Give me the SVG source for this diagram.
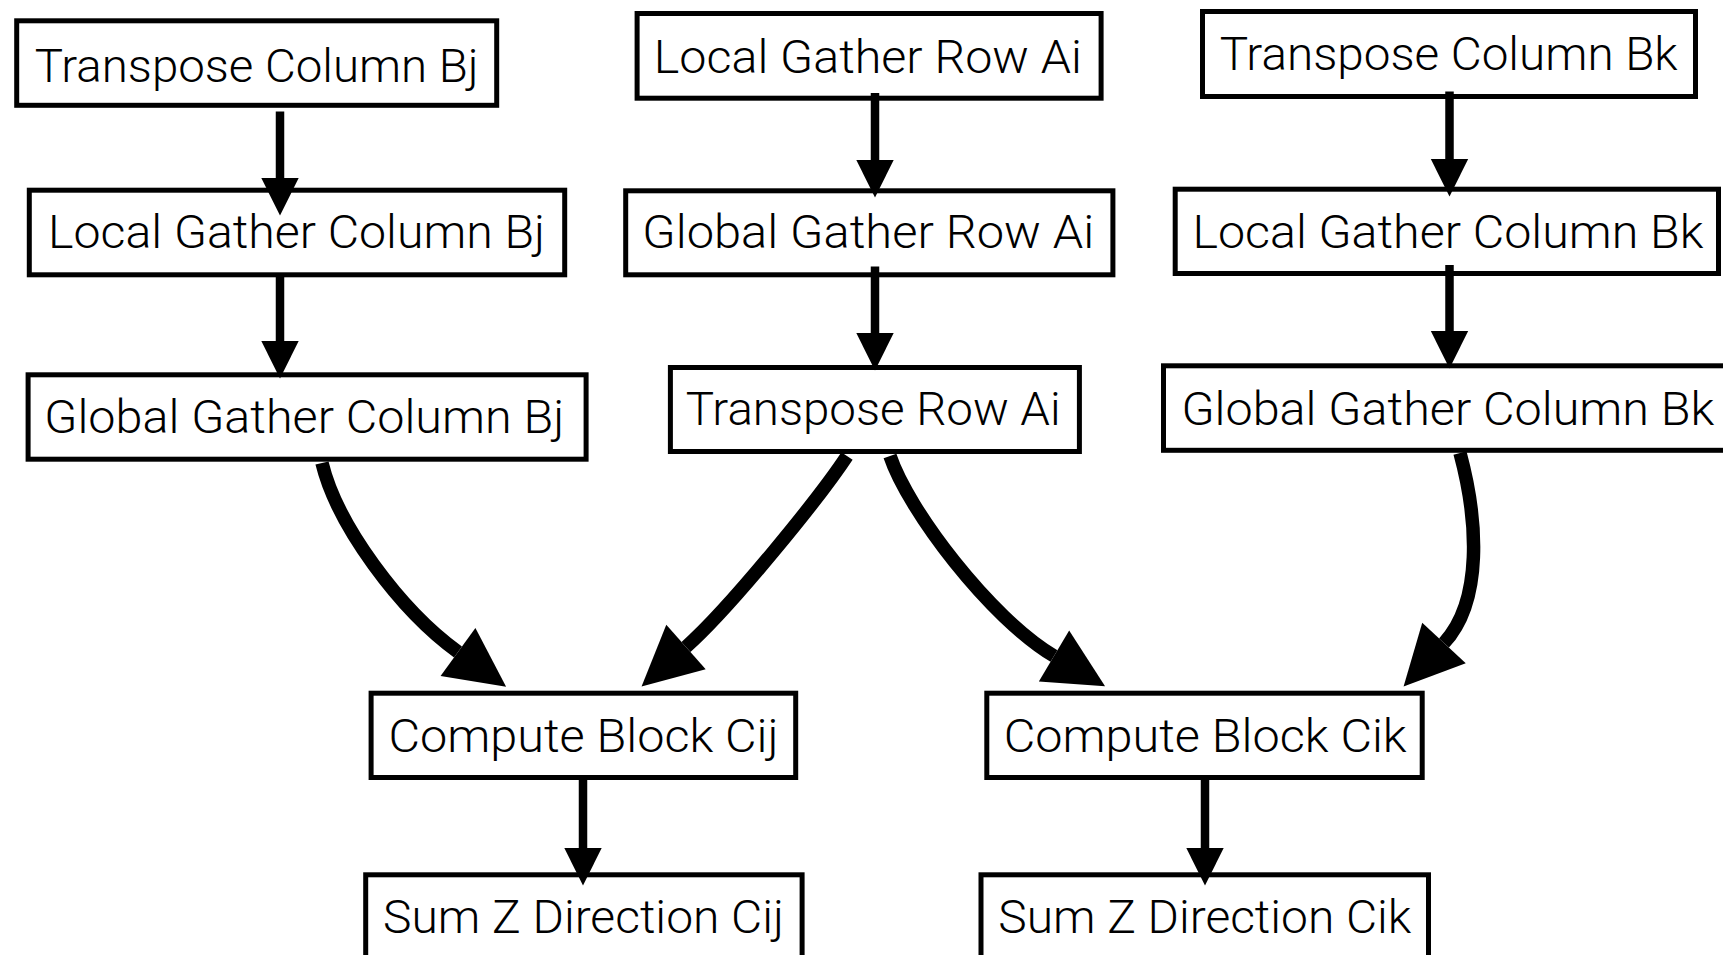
<svg xmlns="http://www.w3.org/2000/svg" width="1723" height="955" viewBox="0 0 1723 955">
  <style>
    .box { fill: #ffffff; stroke: #000000; stroke-width: 5; }
    .label { font-family: Roboto, "Liberation Sans", Arial, Helvetica, sans-serif; font-weight: 300; font-size: 46px; fill: #000000; text-anchor: middle; }
    .edge { fill: none; stroke: #000000; stroke-linecap: butt; }
    .straight { stroke-width: 8.5; marker-end: url(#head); }
    .curved { stroke-width: 13.5; marker-end: url(#head); }
  </style>
  <defs>
    <!-- filled triangular arrowhead, scaled by the connector's stroke width -->
    <marker id="head" viewBox="0 0 10 10" refX="0" refY="5" markerUnits="strokeWidth" markerWidth="4.4" markerHeight="4.4" orient="auto" overflow="visible">
      <path d="M0,0 L10,5 L0,10 Z" fill="#000000"/>
    </marker>
  </defs>

  <rect width="1723" height="955" fill="#ffffff"/>

  <!-- column B_j pipeline -->
  <g id="transpose-column-bj">
    <rect class="box" x="16.7" y="20.8" width="480" height="84.5"/>
    <text class="label" x="256.7" y="81.7" textLength="444" lengthAdjust="spacingAndGlyphs">Transpose Column Bj</text>
  </g>
  <g id="local-gather-column-bj">
    <rect class="box" x="29.3" y="190.2" width="535.4" height="84.6"/>
    <text class="label" x="296.6" y="248.3" textLength="497" lengthAdjust="spacingAndGlyphs">Local Gather Column Bj</text>
  </g>
  <g id="global-gather-column-bj">
    <rect class="box" x="28.1" y="374.8" width="558" height="84.4"/>
    <text class="label" x="304.3" y="433.3" textLength="520" lengthAdjust="spacingAndGlyphs">Global Gather Column Bj</text>
  </g>

  <!-- row A_i pipeline -->
  <g id="local-gather-row-ai">
    <rect class="box" x="637.1" y="13.5" width="464" height="84.7"/>
    <text class="label" x="867.8" y="72.7" textLength="428" lengthAdjust="spacingAndGlyphs">Local Gather Row Ai</text>
  </g>
  <g id="global-gather-row-ai">
    <rect class="box" x="625.7" y="190.8" width="487.2" height="84"/>
    <text class="label" x="868.3" y="248.3" textLength="452" lengthAdjust="spacingAndGlyphs">Global Gather Row Ai</text>
  </g>
  <g id="transpose-row-ai">
    <rect class="box" x="670.4" y="367.5" width="409" height="84"/>
    <text class="label" x="873.2" y="425" textLength="375" lengthAdjust="spacingAndGlyphs">Transpose Row Ai</text>
  </g>

  <!-- column B_k pipeline -->
  <g id="transpose-column-bk">
    <rect class="box" x="1202.5" y="11.5" width="493" height="85"/>
    <text class="label" x="1448.7" y="70" textLength="458" lengthAdjust="spacingAndGlyphs">Transpose Column Bk</text>
  </g>
  <g id="local-gather-column-bk">
    <rect class="box" x="1175.2" y="189.2" width="543.3" height="84.3"/>
    <text class="label" x="1447.9" y="248.3" textLength="511" lengthAdjust="spacingAndGlyphs">Local Gather Column Bk</text>
  </g>
  <g id="global-gather-column-bk">
    <rect class="box" x="1163.5" y="365.8" width="580" height="84.5"/>
    <text class="label" x="1447.9" y="425" textLength="533" lengthAdjust="spacingAndGlyphs">Global Gather Column Bk</text>
  </g>

  <!-- compute and reduce -->
  <g id="compute-block-cij">
    <rect class="box" x="371.1" y="693.2" width="424.6" height="84.3"/>
    <text class="label" x="583.6" y="751.7" textLength="390" lengthAdjust="spacingAndGlyphs">Compute Block Cij</text>
  </g>
  <g id="compute-block-cik">
    <rect class="box" x="986.8" y="693.2" width="435.4" height="84.3"/>
    <text class="label" x="1205.2" y="751.7" textLength="403" lengthAdjust="spacingAndGlyphs">Compute Block Cik</text>
  </g>
  <g id="sum-z-direction-cij">
    <rect class="box" x="365.7" y="874.8" width="436.4" height="84.5"/>
    <text class="label" x="583.5" y="933.3" textLength="401" lengthAdjust="spacingAndGlyphs">Sum Z Direction Cij</text>
  </g>
  <g id="sum-z-direction-cik">
    <rect class="box" x="981" y="874.8" width="447.5" height="84.5"/>
    <text class="label" x="1204.8" y="933.3" textLength="413" lengthAdjust="spacingAndGlyphs">Sum Z Direction Cik</text>
  </g>

  <!-- connectors -->
  <g id="connectors">
    <path class="edge straight" d="M280,111.5 L280,178"/>
    <path class="edge straight" d="M280,277 L280,341"/>
    <path class="edge straight" d="M875,93 L875,160"/>
    <path class="edge straight" d="M875,266.5 L875,333"/>
    <path class="edge straight" d="M1449.5,91.5 L1449.5,159"/>
    <path class="edge straight" d="M1449.5,265 L1449.5,331"/>
    <path class="edge straight" d="M583,780 L583,848"/>
    <path class="edge straight" d="M1205,780 L1205,848"/>

    <path class="edge curved" d="M322,463 C337,525 400,610 458,652"/>
    <path class="edge curved" d="M847,456 C820,497 730,608 686,647"/>
    <path class="edge curved" d="M890,456 C908,510 990,618 1054,656"/>
    <path class="edge curved" d="M1460,453 C1478,520 1483,601 1444,643"/>
  </g>
</svg>
